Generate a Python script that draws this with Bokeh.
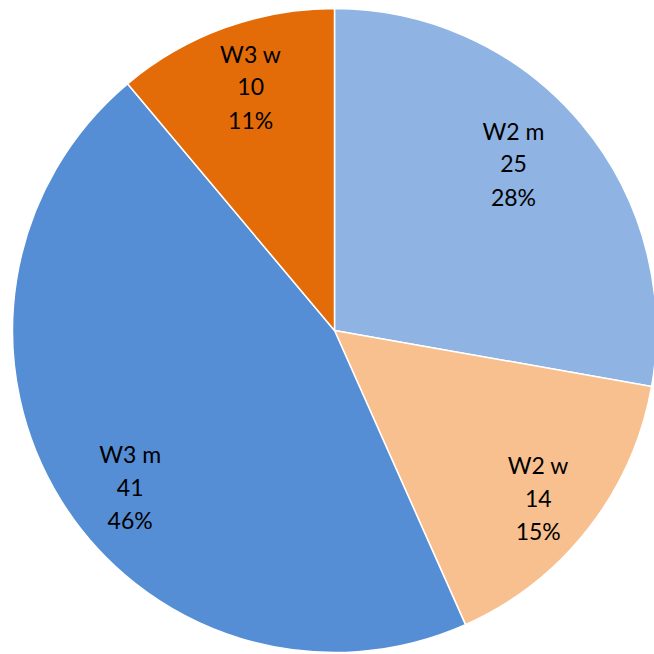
import math
from bokeh.plotting import figure
from bokeh.models import Range1d, ColumnDataSource
from bokeh.core.properties import value
from bokeh.embed import file_html
from bokeh.resources import INLINE

categories = ["W2 m", "W2 w", "W3 m", "W3 w"]
values = [25, 14, 41, 10]
percent_labels = ["28%", "15%", "46%", "11%"]
colors = ["#8FB4E3", "#F9C08F", "#558ED5", "#E36C09"]

W = H = 654
cx, cy, R = 334, 324, 322
# label placement (styling): radial fraction and angular nudge in degrees
label_frac = [0.76, 0.82, 0.80, 0.80]
label_nudge = [3.0, -1.5, 5.5, -1.0]

total = sum(values)
starts, ends, lx, ly = [], [], [], []
a = math.pi / 2
for i, v in enumerate(values):
    sweep = v / total * 2 * math.pi
    s, e = a - sweep, a
    starts.append(s)
    ends.append(e)
    mid = (s + e) / 2 + math.radians(label_nudge[i])
    lx.append(cx + label_frac[i] * R * math.cos(mid))
    ly.append(cy + label_frac[i] * R * math.sin(mid))
    a = s

src = ColumnDataSource(dict(start=starts, end=ends, color=colors, cat=categories,
                            val=[str(v) for v in values], pct=percent_labels, x=lx, y=ly))

p = figure(width=W, height=H, output_backend="svg", toolbar_location=None,
           x_range=Range1d(0, W), y_range=Range1d(0, H), min_border=0)
p.axis.visible = False
p.grid.visible = False
p.outline_line_color = None

p.wedge(x=cx, y=cy, radius=R, start_angle="start", end_angle="end",
        fill_color="color", line_color="white", line_width=1.5, source=src)

common = dict(x="x", y="y", source=src, text_align="center", text_baseline="middle",
              text_font=value("Lato"), text_font_size="23px", text_color="#000000")
p.text(text="cat", y_offset=-33, **common)
p.text(text="val", **common)
p.text(text="pct", y_offset=33, **common)

open("out.html", "w").write(file_html(p, INLINE))
